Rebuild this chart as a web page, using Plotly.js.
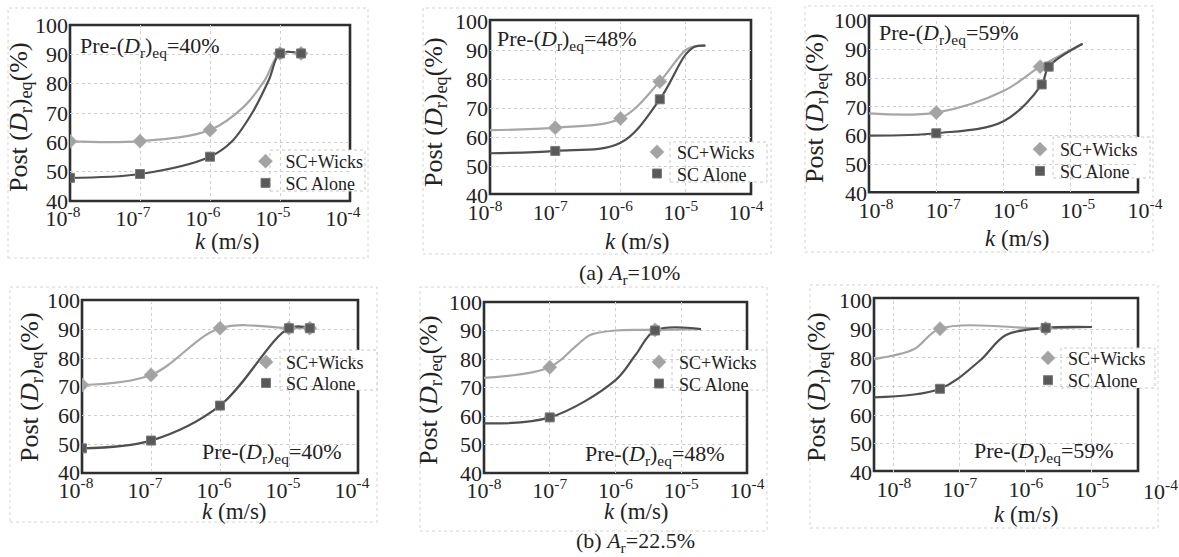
<!DOCTYPE html>
<html><head><meta charset="utf-8">
<script src="https://cdn.plot.ly/plotly-3.0.1.min.js"></script>
<style>html,body{margin:0;padding:0;background:#fff;}#chart{width:1179px;height:557px;}</style>
</head><body><div id="chart"></div>
<script>
// ---------- text / tick labels ----------
const xTickVals = [1e-8, 1e-7, 1e-6, 1e-5, 1e-4];
const xTickText = ['10<sup>-8</sup>', '10<sup>-7</sup>', '10<sup>-6</sup>', '10<sup>-5</sup>', '10<sup>-4</sup>'];
const yTickVals = [40, 50, 60, 70, 80, 90, 100];
const seriesNames = ['SC+Wicks', 'SC Alone'];
const preLabels = ['Pre-(<i>D</i><sub>r</sub>)<sub>eq</sub>=40%', 'Pre-(<i>D</i><sub>r</sub>)<sub>eq</sub>=48%', 'Pre-(<i>D</i><sub>r</sub>)<sub>eq</sub>=59%',
                   'Pre-(<i>D</i><sub>r</sub>)<sub>eq</sub>=40%', 'Pre-(<i>D</i><sub>r</sub>)<sub>eq</sub>=48%', 'Pre-(<i>D</i><sub>r</sub>)<sub>eq</sub>=59%'];
const groupCaptions = ['(a) <i>A</i><sub>r</sub>=10%', '(b) <i>A</i><sub>r</sub>=22.5%'];
const xTitle = '<i>k</i> (m/s)';
const yTitle = 'Post (<i>D</i><sub>r</sub>)<sub>eq</sub>(%)';

// ---------- data (k in m/s, Post-(Dr)eq in %); *Mark = 1 where a marker is drawn ----------
// (a) Ar = 10%
const p1WicksK = [1e-8, 1e-7, 1e-6, 3e-6, 6e-6, 1e-5, 2e-5];
const p1WicksV = [60.3, 60.4, 64.2, 72.0, 81.0, 90.3, 90.3];
const p1WicksMark = [1, 1, 1, 0, 0, 1, 1];
const p1AloneK = [1e-8, 1e-7, 1e-6, 2e-6, 4e-6, 7e-6, 1e-5, 2e-5];
const p1AloneV = [47.9, 49.2, 55.1, 60.0, 70.0, 81.5, 90.3, 90.3];
const p1AloneMark = [1, 1, 1, 0, 0, 0, 1, 1];

const p2WicksK = [1e-8, 1e-7, 1e-6, 4e-6, 1e-5, 1.4e-5, 2e-5];
const p2WicksV = [62.4, 63.2, 66.4, 79.1, 90.0, 91.3, 91.5];
const p2WicksMark = [0, 1, 1, 1, 0, 0, 0];
const p2AloneK = [1e-8, 1e-7, 1e-6, 4e-6, 1e-5, 1.4e-5, 2e-5];
const p2AloneV = [54.4, 55.2, 58.0, 73.0, 88.5, 91.2, 91.5];
const p2AloneMark = [0, 1, 0, 1, 0, 0, 0];

const p3WicksK = [1e-8, 1e-7, 1e-6, 3.5e-6, 1.5e-5];
const p3WicksV = [67.7, 68.0, 75.5, 84.0, 92.0];
const p3WicksMark = [0, 1, 0, 1, 0];
const p3AloneK = [1e-8, 1e-7, 1e-6, 3.7e-6, 4.7e-6, 1.5e-5];
const p3AloneV = [60.0, 60.8, 65.0, 77.8, 84.0, 92.0];
const p3AloneMark = [0, 1, 0, 1, 1, 0];

// (b) Ar = 22.5%
const p4WicksK = [1e-8, 1e-7, 1e-6, 1e-5, 2e-5];
const p4WicksV = [70.6, 74.1, 90.4, 90.4, 90.4];
const p4WicksMark = [1, 1, 1, 1, 1];
const p4AloneK = [1e-8, 1e-7, 1e-6, 1e-5, 2e-5];
const p4AloneV = [48.5, 51.2, 63.4, 90.4, 90.4];
const p4AloneMark = [1, 1, 1, 1, 1];

const p5WicksK = [1e-8, 1e-7, 2.6e-7, 4.1e-7, 1e-6, 4e-6, 2e-5];
const p5WicksV = [73.4, 77.1, 84.9, 88.4, 90.0, 90.2, 90.5];
const p5WicksMark = [0, 1, 0, 0, 0, 1, 0];
const p5AloneK = [1e-8, 1e-7, 1e-6, 2e-6, 4e-6, 2e-5];
const p5AloneV = [57.4, 59.5, 72.6, 81.3, 90.0, 90.5];
const p5AloneMark = [0, 1, 0, 0, 1, 0];

const p6WicksK = [5e-9, 2e-8, 5e-8, 2e-6, 1e-5];
const p6WicksV = [79.6, 83.0, 90.2, 90.3, 90.8];
const p6WicksMark = [0, 0, 1, 1, 0];
const p6AloneK = [5e-9, 5e-8, 2e-7, 5e-7, 2e-6, 1e-5];
const p6AloneV = [66.2, 69.2, 79.0, 88.0, 90.5, 90.8];
const p6AloneMark = [0, 1, 0, 0, 1, 0];

const panelSeries = [
  [[p1WicksK, p1WicksV, p1WicksMark], [p1AloneK, p1AloneV, p1AloneMark]],
  [[p2WicksK, p2WicksV, p2WicksMark], [p2AloneK, p2AloneV, p2AloneMark]],
  [[p3WicksK, p3WicksV, p3WicksMark], [p3AloneK, p3AloneV, p3AloneMark]],
  [[p4WicksK, p4WicksV, p4WicksMark], [p4AloneK, p4AloneV, p4AloneMark]],
  [[p5WicksK, p5WicksV, p5WicksMark], [p5AloneK, p5AloneV, p5AloneMark]],
  [[p6WicksK, p6WicksV, p6WicksMark], [p6AloneK, p6AloneV, p6AloneMark]]
];

// ---------- geometry (pixels) ----------
const W = 1179, H = 557;
const fx = p => p / W;
const fy = p => 1 - p / H;
const FONT = '"Liberation Serif", "Times New Roman", serif';
const TXT = '#222222';

const geo = [
  {dx:[70,350],  dy:[25,201],    fr:[25,201],     xr:[-8,-4],       shift:-7, leg:[285.5,161,182.7], lbox:[270,150,365,191], pre:[78,47],   outer:[8,8,368,258],    yt:[20,117],  xt:[227,241]},
  {dx:[490,751], dy:[21,195],    fr:[20,194],     xr:[-8,-4],       shift:-5, leg:[677,151.7,173.3], lbox:[670,142,767,182], pre:[495,40],  outer:[423,8,771,254],  yt:[435,112], xt:[637,241]},
  {dx:[869,1138],dy:[20.7,193],  fr:[15.7,192.3], xr:[-8,-4],       shift:7,  leg:[1060,149,170.7],  lbox:[1053,137,1150,178],pre:[877,34], outer:[805,6,1153,252], yt:[816,108], xt:[1017,238]},
  {dx:[82,358],  dy:[300.7,472.7],fr:[300,473],   xr:[-8,-4],       shift:-6, leg:[286,361.7,382.7], lbox:[280,350,377,390], pre:[200,453], outer:[10,287,377,522], yt:[31,387],  xt:[234,511]},
  {dx:[484,747], dy:[302,473],   fr:[302,473],    xr:[-8,-4],       shift:0,  leg:[679,361.7,383.3], lbox:[672,350,767,390], pre:[583,455], outer:[420,287,767,531],yt:[430,390], xt:[636,511]},
  {dx:[874,1138],dy:[300.7,472.3],fr:[298,471],   xr:[-8.301,-4.301],shift:0, leg:[1068,357.7,380],  lbox:[1061,348,1155,388],pre:[972,452], outer:[810,285,1158,528],yt:[818,387], xt:[1026,514]}
];

const seriesStyle = [
  {line:'#a6a6a6', marker:{symbol:'diamond', size:11, color:'#a3a3a3', line:{color:'#b5b5b5', width:0.5}}},
  {line:'#4f4f4f', marker:{symbol:'square', size:9, color:'#595959', line:{color:'#7a7a7a', width:1}}}
];

const traces = [];
const layout = {
  width: W, height: H,
  margin: {l:0, r:0, t:0, b:0},
  paper_bgcolor: '#ffffff', plot_bgcolor: 'rgba(0,0,0,0)',
  font: {family: FONT, color: TXT, size: 20},
  showlegend: true,
  shapes: [], annotations: []
};

let legCount = 0;
geo.forEach((g, i) => {
  const n = i + 1;
  const xa = 'x' + (n === 1 ? '' : n), ya = 'y' + (n === 1 ? '' : n);
  panelSeries[i].forEach((s, si) => {
    traces.push({
      x: s[0], y: s[1], xaxis: xa, yaxis: ya, mode: 'lines', showlegend: false, hoverinfo: 'skip',
      line: {shape: 'spline', smoothing: 1, color: seriesStyle[si].line, width: 2.2}
    });
  });
  panelSeries[i].forEach((s, si) => {
    const mx = [], my = [];
    s[0].forEach((k, j) => { if (s[2][j]) { mx.push(k); my.push(s[1][j]); } });
    legCount++;
    const legName = 'legend' + (legCount === 1 ? '' : legCount);
    traces.push({
      x: mx, y: my, xaxis: xa, yaxis: ya, mode: 'markers', name: seriesNames[si],
      legend: legName, marker: seriesStyle[si].marker
    });
    layout[legName] = {
      x: fx(g.leg[0] - 40), y: fy(g.leg[1 + si] - 18), xanchor:'left', yanchor:'top',
      bgcolor:'rgba(0,0,0,0)', borderwidth:0, tracegroupgap:0, itemwidth:30,
      font:{family: FONT, size: 18, color: TXT}
    };
  });

  const axKey = 'xaxis' + (n === 1 ? '' : n), ayKey = 'yaxis' + (n === 1 ? '' : n);
  layout[axKey] = {
    type: 'log', domain: [fx(g.dx[0]), fx(g.dx[1])], range: g.xr, anchor: ya,
    tickvals: xTickVals, ticktext: xTickText, ticks: '', showline: false, zeroline: false,
    showgrid: true, gridcolor: '#cfcfcf', griddash: 'dot', gridwidth: 1,
    tickfont: {family: FONT, size: 22, color: TXT}, ticklabelshift: g.shift, ticklabelstandoff: 2,
    automargin: false, fixedrange: true
  };
  layout[ayKey] = {
    domain: [fy(g.dy[1]), fy(g.dy[0])], range: [40, 100], anchor: xa,
    tickvals: yTickVals, ticks: '', showline: false, zeroline: false,
    showgrid: true, gridcolor: '#cfcfcf', griddash: 'dot', gridwidth: 1,
    tickfont: {family: FONT, size: 22, color: TXT}, ticklabelstandoff: 1,
    automargin: false, fixedrange: true
  };
  layout.shapes.push({type:'rect', xref:'paper', yref:'paper', layer:'below',
    x0: fx(g.outer[0]), x1: fx(g.outer[2]), y0: fy(g.outer[3]), y1: fy(g.outer[1]),
    line:{color:'#d4d4d4', width:1, dash:'dot'}});
  layout.shapes.push({type:'rect', xref:'paper', yref:'paper', layer:'between',
    x0: fx(g.dx[0]), x1: fx(g.dx[1]), y0: fy(g.fr[1]), y1: fy(g.fr[0]),
    line:{color:'#2e2e2e', width:2.6}});
  layout.shapes.push({type:'rect', xref:'paper', yref:'paper', layer:'between',
    x0: fx(g.lbox[0]), x1: fx(g.lbox[2]), y0: fy(g.lbox[3]), y1: fy(g.lbox[1]),
    fillcolor:'#ffffff', line:{color:'#c8c8c8', width:1, dash:'dot'}});
  layout.annotations.push({text: preLabels[i], xref:'paper', yref:'paper',
    x: fx(g.pre[0]), y: fy(g.pre[1]), xanchor:'left', yanchor:'middle', showarrow:false,
    font:{family: FONT, size: 22, color: TXT}});
  layout.annotations.push({text: yTitle, xref:'paper', yref:'paper', textangle: -90,
    x: fx(g.yt[0]), y: fy(g.yt[1]), xanchor:'center', yanchor:'middle', showarrow:false,
    font:{family: FONT, size: 26, color: TXT}});
  layout.annotations.push({text: xTitle, xref:'paper', yref:'paper',
    x: fx(g.xt[0]), y: fy(g.xt[1]), xanchor:'center', yanchor:'middle', showarrow:false,
    font:{family: FONT, size: 23, color: TXT}});
});

layout.annotations.push({text: xTickText[4], xref:'paper', yref:'paper', x: fx(1160), y: fy(490),
  xanchor:'center', yanchor:'middle', showarrow:false, font:{family: FONT, size: 22, color: TXT}});
layout.annotations.push({text: groupCaptions[0], xref:'paper', yref:'paper', x: fx(629), y: fy(274),
  xanchor:'center', yanchor:'middle', showarrow:false, font:{family: FONT, size: 22, color: TXT}});
layout.annotations.push({text: groupCaptions[1], xref:'paper', yref:'paper', x: fx(635), y: fy(542),
  xanchor:'center', yanchor:'middle', showarrow:false, font:{family: FONT, size: 22, color: TXT}});

Plotly.newPlot('chart', traces, layout, {staticPlot: true, displayModeBar: false});
</script>
</body></html>
